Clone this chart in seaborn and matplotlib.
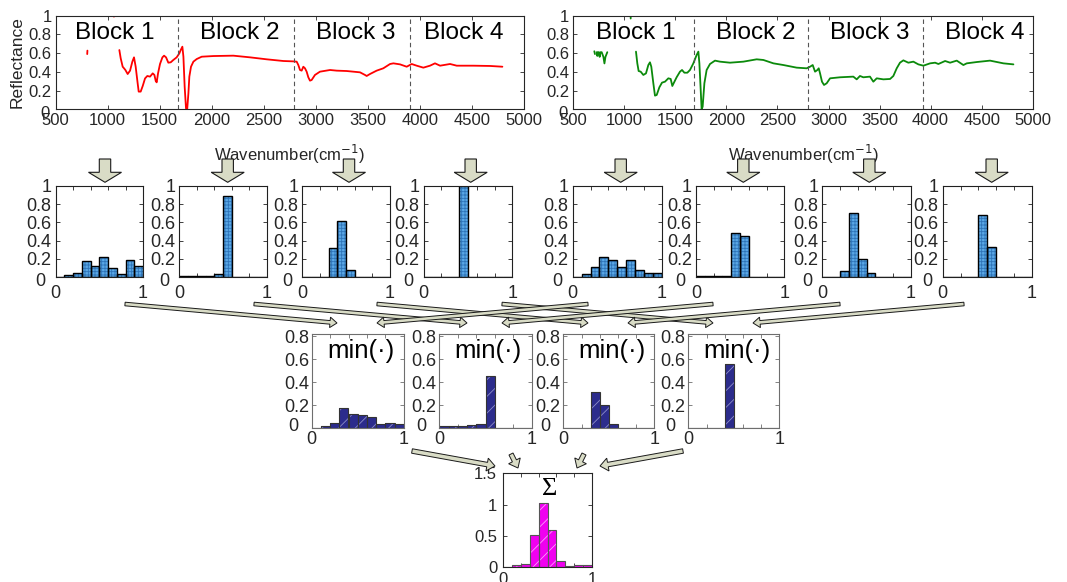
import numpy as np
import pandas as pd
import matplotlib
matplotlib.use("Agg")
import matplotlib.pyplot as plt
import matplotlib.patches as mpatches
import seaborn as sns

# ---------------- data ----------------
red_wn = [803, 805,
          1060, 1068,
          1112, 1125, 1144, 1157, 1170, 1192, 1215, 1237, 1253, 1269, 1288, 1298, 1317, 1337,
          1359, 1381, 1407, 1433, 1449, 1462, 1471, 1484, 1503, 1526, 1542, 1561, 1583, 1606,
          1631, 1663, 1689, 1702, 1718, 1728, 1740, 1753, 1763, 1776, 1785, 1801, 1824, 1856,
          1904, 2016, 2208, 2369, 2529, 2689, 2785, 2817, 2833, 2849, 2865, 2881, 2897, 2913,
          2929, 2945, 2961, 2993, 3041, 3138, 3202, 3298, 3362, 3426, 3474, 3490, 3522, 3586,
          3650, 3715, 3747, 3811, 3875, 3923, 3971, 4035, 4099, 4147, 4196, 4292, 4356, 4516,
          4677, 4795]
red_r = [0.59, 0.627,
         0.99, 1.03,
         0.633, 0.545, 0.455, 0.438, 0.42, 0.377, 0.413, 0.509, 0.555, 0.455, 0.278, 0.189, 0.189, 0.25,
         0.33, 0.356, 0.349, 0.384, 0.367, 0.302, 0.288, 0.384, 0.484, 0.555, 0.573, 0.555, 0.498, 0.502,
         0.527, 0.555, 0.598, 0.633, 0.669, 0.562, 0.242, 0.01, -0.02, 0.171, 0.349, 0.455, 0.509, 0.537,
         0.562, 0.569, 0.573, 0.555, 0.534, 0.516, 0.512, 0.509, 0.473, 0.42, 0.413, 0.455, 0.438, 0.402,
         0.342, 0.306, 0.313, 0.367, 0.402, 0.42, 0.413, 0.409, 0.402, 0.395, 0.367, 0.356, 0.377, 0.413,
         0.438, 0.484, 0.491, 0.48, 0.455, 0.484, 0.466, 0.445, 0.466, 0.491, 0.466, 0.484, 0.466, 0.466,
         0.463, 0.455]
red_seg_sizes = [2, 2]          # two short fragments, then the main trace

green_wn = [1062, 1063,
            706, 712,
            729, 735, 741, 750, 758, 766, 778, 795, 805, 815, 833,
            1114, 1127, 1140, 1160, 1186, 1212, 1235, 1251, 1264, 1284, 1300, 1317, 1343, 1369,
            1398, 1431, 1454, 1470, 1486, 1512, 1545, 1565, 1588, 1617, 1643, 1676, 1708, 1725,
            1735, 1748, 1757, 1767, 1784, 1806, 1839, 1888, 1937, 2035, 2166, 2296, 2362, 2460,
            2558, 2688, 2786, 2819, 2845, 2868, 2891, 2904, 2917, 2936, 2956, 2982, 3015, 3113,
            3243, 3276, 3308, 3341, 3406, 3439, 3472, 3537, 3603, 3635, 3668, 3700, 3733, 3782,
            3831, 3880, 3929, 3995, 4044, 4076, 4142, 4191, 4256, 4321, 4354, 4452, 4582, 4713,
            4811]
green_r = [0.97, 1.05,
           0.62, 0.59,
           0.61, 0.57, 0.61, 0.61, 0.56, 0.61, 0.61, 0.56, 0.49, 0.56, 0.61,
           0.616, 0.491, 0.409, 0.402, 0.367, 0.384, 0.473, 0.502, 0.455, 0.278, 0.146, 0.153, 0.235, 0.285,
           0.295, 0.331, 0.324, 0.249, 0.285, 0.342, 0.402, 0.42, 0.391, 0.391, 0.42, 0.491, 0.58, 0.616,
           0.491, 0.206, 0.0, 0.028, 0.278, 0.42, 0.484, 0.52, 0.509, 0.498, 0.509, 0.534, 0.527, 0.491,
           0.473, 0.445, 0.438, 0.455, 0.473, 0.402, 0.42, 0.438, 0.384, 0.295, 0.26, 0.278, 0.331, 0.342,
           0.349, 0.32, 0.356, 0.342, 0.349, 0.295, 0.331, 0.32, 0.324, 0.356, 0.438, 0.498, 0.523, 0.498,
           0.509, 0.48, 0.466, 0.491, 0.498, 0.484, 0.516, 0.498, 0.52, 0.473, 0.491, 0.505, 0.52, 0.491,
           0.48]
green_seg_sizes = [2, 2, 11]    # three short fragments, then the main trace

block_bounds_left = [1675, 2790, 3905]
block_bounds_right = [1680, 2800, 3930]
block_labels = ["Block 1", "Block 2", "Block 3", "Block 4"]
block_text_x_left = [1070, 2272, 3387, 4426]
block_text_x_right = [1107, 2285, 3401, 4528]

bin_edges = [0, 0.1, 0.2, 0.3, 0.4, 0.5, 0.6, 0.7, 0.8, 0.9, 1.0]
bin_centers = [0.05, 0.15, 0.25, 0.35, 0.45, 0.55, 0.65, 0.75, 0.85, 0.95]

hist_left = [
    [0, 0.018, 0.04, 0.176, 0.117, 0.22, 0.10, 0.037, 0.187, 0.117],
    [0.01, 0.01, 0.015, 0.015, 0.035, 0.894, 0, 0, 0, 0],
    [0, 0, 0, 0.315, 0.61, 0.077, 0, 0, 0, 0],
    [0, 0, 0, 0, 1.0, 0, 0, 0, 0, 0],
]
hist_right = [
    [0, 0.037, 0.11, 0.216, 0.19, 0.106, 0.183, 0.073, 0.044, 0.04],
    [0.01, 0.01, 0.01, 0.015, 0.48, 0.447, 0, 0, 0, 0],
    [0, 0, 0.062, 0.70, 0.194, 0.04, 0, 0, 0, 0],
    [0, 0, 0, 0, 0.678, 0.326, 0, 0, 0, 0],
]
hist_min = [
    [0, 0.02, 0.044, 0.18, 0.122, 0.113, 0.096, 0.035, 0.047, 0.04],
    [0.017, 0.017, 0.017, 0.026, 0.038, 0.456, 0, 0, 0, 0],
    [0, 0, 0, 0.32, 0.2, 0.04, 0, 0, 0, 0],
    [0, 0, 0, 0, 0.56, 0, 0, 0, 0, 0],
]
hist_sum = [0.01, 0.03, 0.06, 0.51, 1.03, 0.6, 0.1, 0.027, 0.043, 0.037]


def seg_ids(sizes, n):
    ids = []
    for i, s in enumerate(sizes):
        ids += [i] * s
    ids += [len(sizes)] * (n - len(ids))
    return ids


# ---------------- setup ----------------
sns.set_style("ticks")
plt.rcParams["font.family"] = ["Liberation Sans", "DejaVu Sans"]
plt.rcParams["hatch.linewidth"] = 0.6

W, H = 1067, 582
fig = plt.figure(figsize=(W / 100, H / 100), dpi=100)
fig.patch.set_facecolor("white")


def add_ax(x0, y0, x1, y1):
    return fig.add_axes([x0 / W, 1 - y1 / H, (x1 - x0) / W, (y1 - y0) / H])


def style(ax, spine_color, labelsize, xpad, ypad):
    for s in ax.spines.values():
        s.set_visible(True)
        s.set_color(spine_color)
        s.set_linewidth(0.8)
    ax.tick_params(direction="in", top=True, right=True, length=3, width=0.6,
                   color=spine_color, labelcolor="#262626", labelsize=labelsize)
    ax.tick_params(axis="x", pad=xpad)
    ax.tick_params(axis="y", pad=ypad)
    ax.set_facecolor("white")


def zero_label(ax, dx, dy, size):
    ax.annotate("0", xy=(0, 0), xycoords=("axes fraction", "data"),
                xytext=(dx, dy), textcoords="offset points", ha="center", va="center",
                fontsize=size, color="#262626", annotation_clip=False)


# ---------------- spectra ----------------
spec_specs = [
    ((55.7, 15.7, 523.7, 109.3), red_wn, red_r, red_seg_sizes, "#ff0000", block_bounds_left, block_text_x_left, True),
    ((573.3, 15.7, 1032.7, 109.3), green_wn, green_r, green_seg_sizes, "#0b8a0b", block_bounds_right, block_text_x_right, False),
]
for box, wn, rr, sizes, col, bounds, tx, first in spec_specs:
    ax = add_ax(*box)
    df = pd.DataFrame({"wn": wn, "r": rr, "seg": seg_ids(sizes, len(wn))})
    sns.lineplot(data=df, x="wn", y="r", units="seg", estimator=None, sort=False,
                 color=col, linewidth=1.3, ax=ax, legend=False)
    for b in bounds:
        ax.axvline(b, color="#555555", linestyle=(0, (4, 3)), linewidth=0.8)
    for lbl, x in zip(block_labels, tx):
        ax.text(x, 0.81, lbl, ha="center", va="center", fontsize=17.5, color="black")
    ax.set_xlim(500, 5000)
    ax.set_ylim(0, 1)
    ax.set_xticks(range(500, 5001, 500))
    ax.set_xticklabels([str(v) for v in range(500, 5001, 500)])
    ax.set_yticks([0, 0.2, 0.4, 0.6, 0.8, 1])
    ax.set_yticklabels(["", "0.2", "0.4", "0.6", "0.8", "1"])
    style(ax, "#262626", 12, 2.5, 3)
    zero_label(ax, -7.5, -3, 12)
    ax.set_xlabel("Wavenumber(cm$^{-1}$)", fontsize=12, color="#262626")
    ax.xaxis.set_label_coords(0.5, -0.36)
    if first:
        ax.set_ylabel("Reflectance", fontsize=12.5, color="#262626")
        ax.yaxis.set_label_coords(-0.066, 0.5)
    else:
        ax.set_ylabel("")

# ---------------- histograms ----------------
def draw_hist(ax, vals, face, hatch, hatch_col, edge, edge_lw, ylim, yticks, ylabels, size, xpad, ypad, spine):
    sns.histplot(x=bin_centers, weights=vals, bins=bin_edges, ax=ax, color=face,
                 edgecolor=hatch_col, hatch=hatch, linewidth=0, alpha=1)
    sns.histplot(x=bin_centers, weights=vals, bins=bin_edges, ax=ax, fill=False,
                 color=edge, linewidth=edge_lw)
    ax.set_xlim(0, 1)
    ax.set_ylim(*ylim)
    ax.set_xticks([0, 0.2, 0.4, 0.6, 0.8, 1])
    ax.set_xticklabels(["0", "", "", "", "", "1"])
    ax.set_yticks(yticks)
    ax.set_yticklabels(ylabels)
    ax.set_xlabel("")
    ax.set_ylabel("")
    style(ax, spine, size, xpad, ypad)


row2_x = [(55.7, 143), (179.3, 266.7), (302.3, 390), (423.7, 512.3),
          (572.7, 662), (696, 784.3), (822.3, 910.7), (942.7, 1031.7)]
row2_vals = hist_left + hist_right
for (x0, x1), vals in zip(row2_x, row2_vals):
    ax = add_ax(x0, 186, x1, 277)
    draw_hist(ax, vals, "#5aa8e6", "+++++", "#2f74b8", "black", 1.0, (0, 1),
              [0, 0.2, 0.4, 0.6, 0.8, 1], ["", "0.2", "0.4", "0.6", "0.8", "1"],
              13, 6, 3, "#202020")
    zero_label(ax, -11, -3, 13)

row3_x = [(311.7, 403.7), (439.3, 531.7), (563.3, 654.3), (688.3, 779.3)]
for (x0, x1), vals in zip(row3_x, hist_min):
    ax = add_ax(x0, 334, x1, 428.3)
    draw_hist(ax, vals, "#2c2c8c", "//", "#8e8ec8", "#333333", 0.8, (0, 0.82),
              [0, 0.2, 0.4, 0.6, 0.8], ["", "0.2", "0.4", "0.6", "0.8"],
              13, 2, 2, "#6e6e6e")
    zero_label(ax, -13, 1.5, 13)
    ax.text(0.53, 0.67, "min(\u00b7)", ha="center", va="center", fontsize=18.5, color="black")

ax = add_ax(502.7, 473.3, 592.3, 567.3)
draw_hist(ax, hist_sum, "#f000f0", "//", "#ff9cff", "#555555", 0.8, (0, 1.5),
          [0, 0.5, 1, 1.5], ["0", "0.5", "1", "1.5"], 12, 3.5, 4, "#262626")
ax.text(0.52, 1.25, "\u03a3", ha="center", va="center", fontsize=19,
        family=["Liberation Serif", "DejaVu Serif"], color="black")

# ---------------- arrows overlay ----------------
ov = fig.add_axes([0, 0, 1, 1], zorder=10)
ov.set_xlim(0, W)
ov.set_ylim(H, 0)
ov.axis("off")
ov.patch.set_alpha(0)

arrow_fc = "#d9dcc6"
arrow_ec = "#1a1a1a"

block_arrow_x = [105, 227.7, 349, 470.7, 620.7, 743.3, 869.3, 991.7]
for x in block_arrow_x:
    ov.add_patch(mpatches.FancyArrow(x, 159, 0, 23.3, width=11.4, head_width=33, head_length=10,
                                     length_includes_head=True, fc=arrow_fc, ec=arrow_ec, lw=0.8))

thin_arrows = [((125, 304), (337, 323)), ((254, 304), (467, 323)), ((377, 304), (588, 323)),
               ((502, 304), (713, 323)), ((588, 304), (377, 323)), ((713, 304), (502, 323)),
               ((840, 304), (628, 323)), ((964, 304), (753, 323))]
for (xs, ys), (xe, ye) in thin_arrows:
    ov.add_patch(mpatches.FancyArrow(xs, ys, xe - xs, ye - ys, width=3.6, head_width=10.5,
                                     head_length=7, length_includes_head=True,
                                     fc=arrow_fc, ec=arrow_ec, lw=0.7))

sum_arrows = [((412, 451), (495, 466)), ((511, 454), (518, 468)),
              ((584, 454), (577, 468)), ((683, 451), (600, 466))]
for (xs, ys), (xe, ye) in sum_arrows:
    ov.add_patch(mpatches.FancyArrow(xs, ys, xe - xs, ye - ys, width=4.5, head_width=13,
                                     head_length=8, length_includes_head=True,
                                     fc=arrow_fc, ec=arrow_ec, lw=0.7))

fig.savefig("out.png", dpi=100, facecolor="white")
